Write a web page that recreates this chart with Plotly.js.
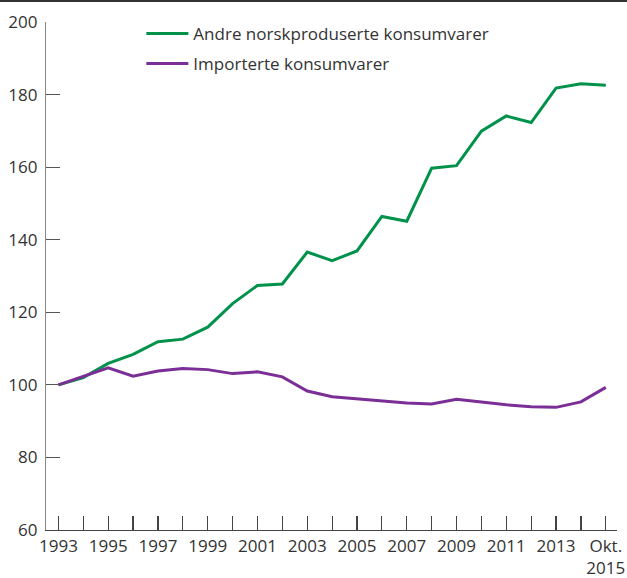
<!DOCTYPE html>
<html>
<head>
<meta charset="utf-8">
<script src="https://cdn.plot.ly/plotly-3.0.1.min.js"></script>
<style>
html,body{margin:0;padding:0;background:#fff;}
#chart{width:627px;height:578px;}
</style>
</head>
<body>
<div id="chart"></div>
<script>
const years = [1993,1994,1995,1996,1997,1998,1999,2000,2001,2002,2003,2004,2005,2006,2007,2008,2009,2010,2011,2012,2013,2014,2015];
const norskprodusert = [100,102.0,105.9,108.4,111.9,112.6,115.9,122.4,127.4,127.8,136.6,134.2,136.9,146.4,145.1,159.7,160.4,169.9,174.1,172.3,181.8,183.0,182.6];
const importert = [100,102.4,104.7,102.4,103.8,104.5,104.2,103.1,103.6,102.2,98.3,96.7,96.1,95.7,95.0,94.7,96.0,95.3,94.5,94.0,93.8,95.3,99.3];
const seriesNames = ["Andre norskproduserte konsumvarer","Importerte konsumvarer"];
const tickYears = years;
const tickLabels = years.map(y => y === 2015 ? "Okt.<br>2015" : (y % 2 === 1 ? String(y) : ""));
const yTicks = [60,80,100,120,140,160,180,200];

const font = {family: "Open Sans, DejaVu Sans, sans-serif", size: 17, color: "#333333"};

const traces = [
  {x: years, y: norskprodusert, name: seriesNames[0], type: "scatter", mode: "lines",
   line: {color: "#00924A", width: 3}, legend: "legend"},
  {x: years, y: importert, name: seriesNames[1], type: "scatter", mode: "lines",
   line: {color: "#7A2E96", width: 3}, legend: "legend2"}
];

const layout = {
  width: 627, height: 578,
  margin: {l: 46, r: 10, t: 22, b: 48},
  paper_bgcolor: "#ffffff", plot_bgcolor: "#ffffff",
  font: font,
  showlegend: true,
  legend: {x: 0.167, y: 1.012, xanchor: "left", yanchor: "top", bgcolor: "rgba(0,0,0,0)", font: font, itemwidth: 42},
  legend2: {x: 0.167, y: 0.953, xanchor: "left", yanchor: "top", bgcolor: "rgba(0,0,0,0)", font: font, itemwidth: 42},
  xaxis: {
    range: [1992.5, 2015.45], tickmode: "array", tickvals: tickYears, ticktext: tickLabels,
    ticks: "inside", ticklen: 14, tickwidth: 1.2, tickcolor: "#444444",
    showline: true, linecolor: "#444444", linewidth: 1.2,
    showgrid: false, zeroline: false, tickfont: font, tickangle: 0, ticklabelstandoff: 0
  },
  yaxis: {
    range: [60, 200], tickmode: "array", tickvals: yTicks,
    ticks: "inside", ticklen: 14, tickwidth: 1.2, tickcolor: "#555555",
    showline: true, linecolor: "#888888", linewidth: 1.2,
    showgrid: false, zeroline: false, tickfont: font, ticklabelstandoff: 4
  },
  shapes: [
    {type: "rect", xref: "paper", yref: "paper", layer: "above",
     x0: -0.085, x1: 1.02, y0: 1.0394, y1: 1.0433,
     fillcolor: "#333333", line: {width: 0}}
  ]
};

Plotly.newPlot("chart", traces, layout, {displayModeBar: false, staticPlot: true});
</script>
</body>
</html>
